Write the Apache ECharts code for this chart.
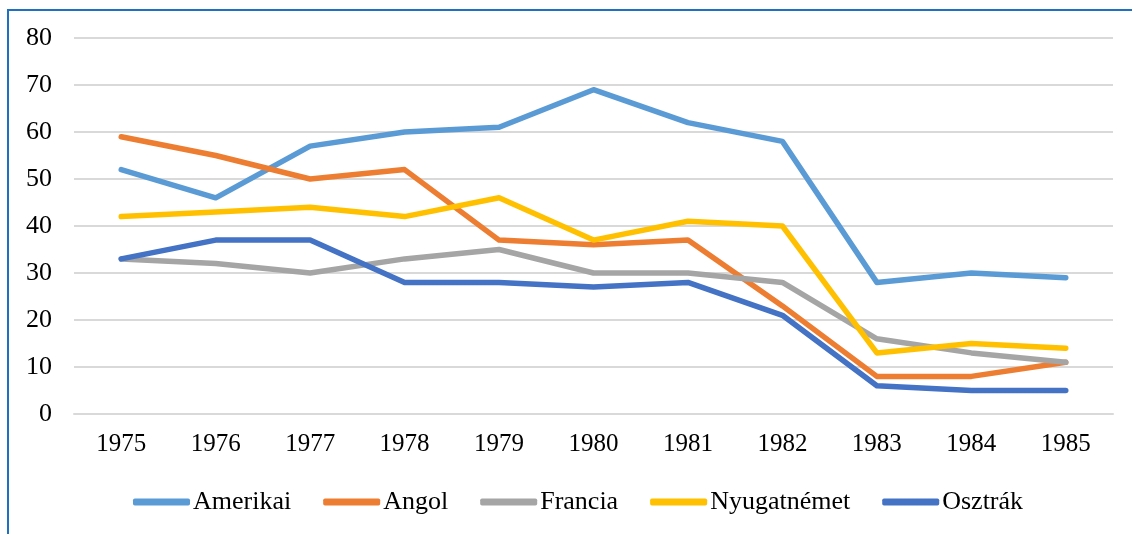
<!DOCTYPE html>
<html>
<head>
<meta charset="utf-8">
<script src="https://cdn.jsdelivr.net/npm/echarts@6/dist/echarts.min.js"></script>
<style>
html,body{margin:0;padding:0;background:#fff;}
#chart{width:1132px;height:534px;}
</style>
</head>
<body>
<div id="chart"></div>
<script>
const years = ['1975','1976','1977','1978','1979','1980','1981','1982','1983','1984','1985'];
const amerikai    = [52, 46, 57, 60, 61, 69, 62, 58, 28, 30, 29];
const angol       = [59, 55, 50, 52, 37, 36, 37, 23, 8, 8, 11];
const francia     = [33, 32, 30, 33, 35, 30, 30, 28, 16, 13, 11];
const nyugatnemet = [42, 43, 44, 42, 46, 37, 41, 40, 13, 15, 14];
const osztrak     = [33, 37, 37, 28, 28, 27, 28, 21, 6, 5, 5];
const seriesNames = ['Amerikai', 'Angol', 'Francia', 'Nyugatnémet', 'Osztrák'];
const seriesData = [amerikai, angol, francia, nyugatnemet, osztrak];
const colors = ['#5B9BD5', '#ED7D31', '#A5A5A5', '#FFC000', '#4472C4'];

const font = '"Liberation Serif", "Times New Roman", serif';
const chart = echarts.init(document.getElementById('chart'));
chart.setOption({
  animation: false,
  backgroundColor: '#ffffff',
  color: colors,
  graphic: [{
    type: 'polyline',
    shape: { points: [[8, 534], [8, 10], [1132, 10]] },
    style: { stroke: '#1F70C1', lineWidth: 2, fill: null },
    silent: true
  }],
  grid: { left: 74, right: 19, top: 38, bottom: 120, containLabel: false },
  legend: {
    left: 128,
    top: 484,
    itemWidth: 57,
    itemHeight: 7,
    itemGap: 32,
    icon: 'roundRect',
    textStyle: { fontFamily: font, fontSize: 26, color: '#000', padding: [0, 0, 0, -2] },
    data: seriesNames
  },
  xAxis: {
    type: 'category',
    data: years,
    boundaryGap: true,
    axisLine: { lineStyle: { color: '#D9D9D9', width: 2 } },
    axisTick: { show: false },
    axisLabel: { fontFamily: font, fontSize: 25, color: '#000', margin: 18 }
  },
  yAxis: {
    type: 'value',
    min: 0,
    max: 80,
    interval: 10,
    axisLine: { show: false },
    axisTick: { show: false },
    splitLine: { lineStyle: { color: '#D9D9D9', width: 2 } },
    axisLabel: { fontFamily: font, fontSize: 26, color: '#000', margin: 22 }
  },
  series: seriesNames.map((name, i) => ({
    name: name,
    type: 'line',
    data: seriesData[i],
    symbol: 'none',
    lineStyle: { width: 5.5, color: colors[i], cap: 'round', join: 'round' },
    itemStyle: { color: colors[i] }
  }))
});
</script>
</body>
</html>
